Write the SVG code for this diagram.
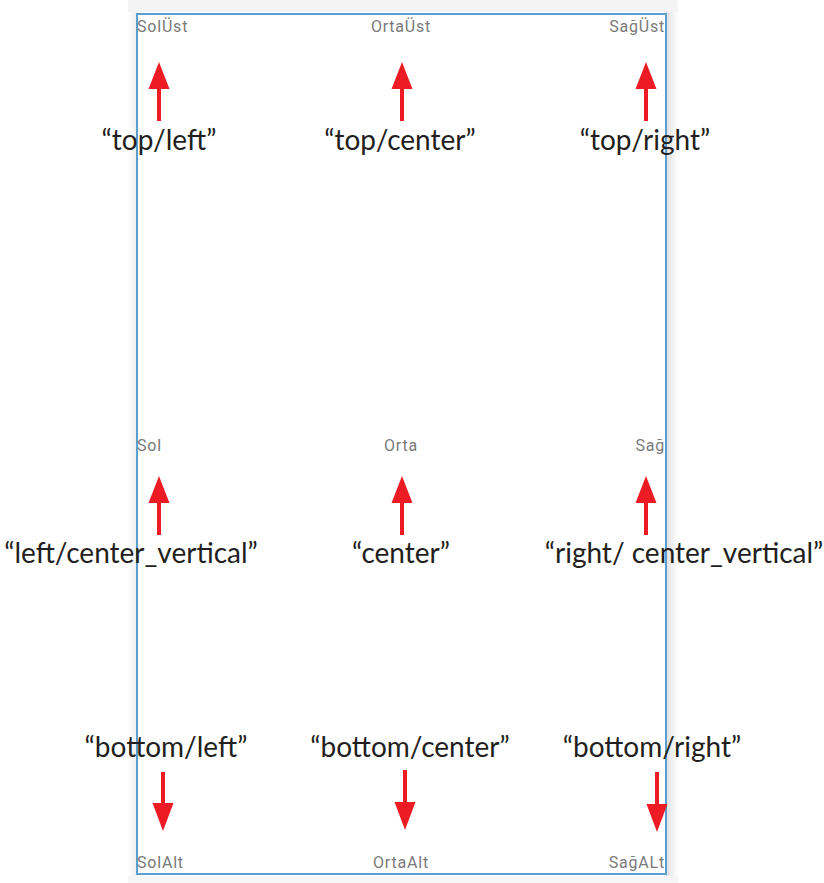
<svg xmlns="http://www.w3.org/2000/svg" width="824" height="883" viewBox="0 0 824 883">
<defs>
<linearGradient id="shL" x1="0" x2="1" y1="0" y2="0"><stop offset="0" stop-color="#ffffff"/><stop offset="1" stop-color="#ececec"/></linearGradient>
<linearGradient id="shR" x1="0" x2="1" y1="0" y2="0"><stop offset="0" stop-color="#e0e0e0"/><stop offset="1" stop-color="#ffffff"/></linearGradient>
</defs>
<style>
.lbl{font-family:Lato,"Open Sans","Liberation Sans",sans-serif;font-size:28px;fill:#231f20}
.sm{font-family:Roboto,"Liberation Sans",sans-serif;font-size:16px;letter-spacing:0.8px;fill:#7a7a7a}
.arr{fill:#ed1c24}
</style>
<rect width="824" height="883" fill="#ffffff"/>
<g id="device">
<rect x="128" y="0" width="10" height="883" fill="url(#shL)"/>
<rect x="666" y="0" width="12" height="883" fill="url(#shR)"/>
<rect x="128" y="0" width="550" height="12" fill="#f4f4f4"/>
<rect x="128" y="876" width="550" height="7" fill="#f6f6f6"/>
<rect x="137" y="14" width="529" height="860" fill="#ffffff" stroke="#5b9fd0" stroke-width="2"/>
</g>
<g id="screen-labels">
<text class="sm" x="137" y="32">SolÜst</text>
<text class="sm" x="401" y="32" text-anchor="middle">OrtaÜst</text>
<text class="sm" x="665" y="32" text-anchor="end">SağÜst</text>
<text class="sm" x="137" y="451">Sol</text>
<text class="sm" x="401" y="451" text-anchor="middle">Orta</text>
<text class="sm" x="665" y="451" text-anchor="end">Sağ</text>
<text class="sm" x="137" y="868">SolAlt</text>
<text class="sm" x="401" y="868" text-anchor="middle">OrtaAlt</text>
<text class="sm" x="665" y="868" text-anchor="end">SağALt</text>
</g>
<g id="connectors">
<path class="arr" d="M159,62 L169.5,89 L161,89 L161,121 L157,121 L157,89 L148.5,89 Z"/>
<path class="arr" d="M402,62 L412.5,89 L404,89 L404,121 L400,121 L400,89 L391.5,89 Z"/>
<path class="arr" d="M646,62 L656.5,89 L648,89 L648,121 L644,121 L644,89 L635.5,89 Z"/>
<path class="arr" d="M159,476 L169.5,503 L161,503 L161,535 L157,535 L157,503 L148.5,503 Z"/>
<path class="arr" d="M402,476 L412.5,503 L404,503 L404,535 L400,535 L400,503 L391.5,503 Z"/>
<path class="arr" d="M646,476 L656.5,503 L648,503 L648,535 L644,535 L644,503 L635.5,503 Z"/>
<path class="arr" d="M163,831 L173.5,803 L165,803 L165,772 L161,772 L161,803 L152.5,803 Z"/>
<path class="arr" d="M405,830 L415.5,802 L407,802 L407,770 L403,770 L403,802 L394.5,802 Z"/>
<path class="arr" d="M657,832 L667.5,804 L659,804 L659,772 L655,772 L655,804 L646.5,804 Z"/>
</g>
<g id="labels">
<text class="lbl" x="159" y="150" text-anchor="middle">“top/left”</text>
<text class="lbl" x="400" y="150" text-anchor="middle">“top/center”</text>
<text class="lbl" x="645" y="150" text-anchor="middle">“top/right”</text>
<text class="lbl" x="131" y="563" text-anchor="middle">“left/center_vertical”</text>
<text class="lbl" x="401" y="563" text-anchor="middle">“center”</text>
<text class="lbl" x="684" y="563" text-anchor="middle">“right/ center_vertical”</text>
<text class="lbl" x="166" y="757" text-anchor="middle">“bottom/left”</text>
<text class="lbl" x="410" y="757" text-anchor="middle">“bottom/center”</text>
<text class="lbl" x="652" y="757" text-anchor="middle">“bottom/right”</text>
</g>
</svg>
